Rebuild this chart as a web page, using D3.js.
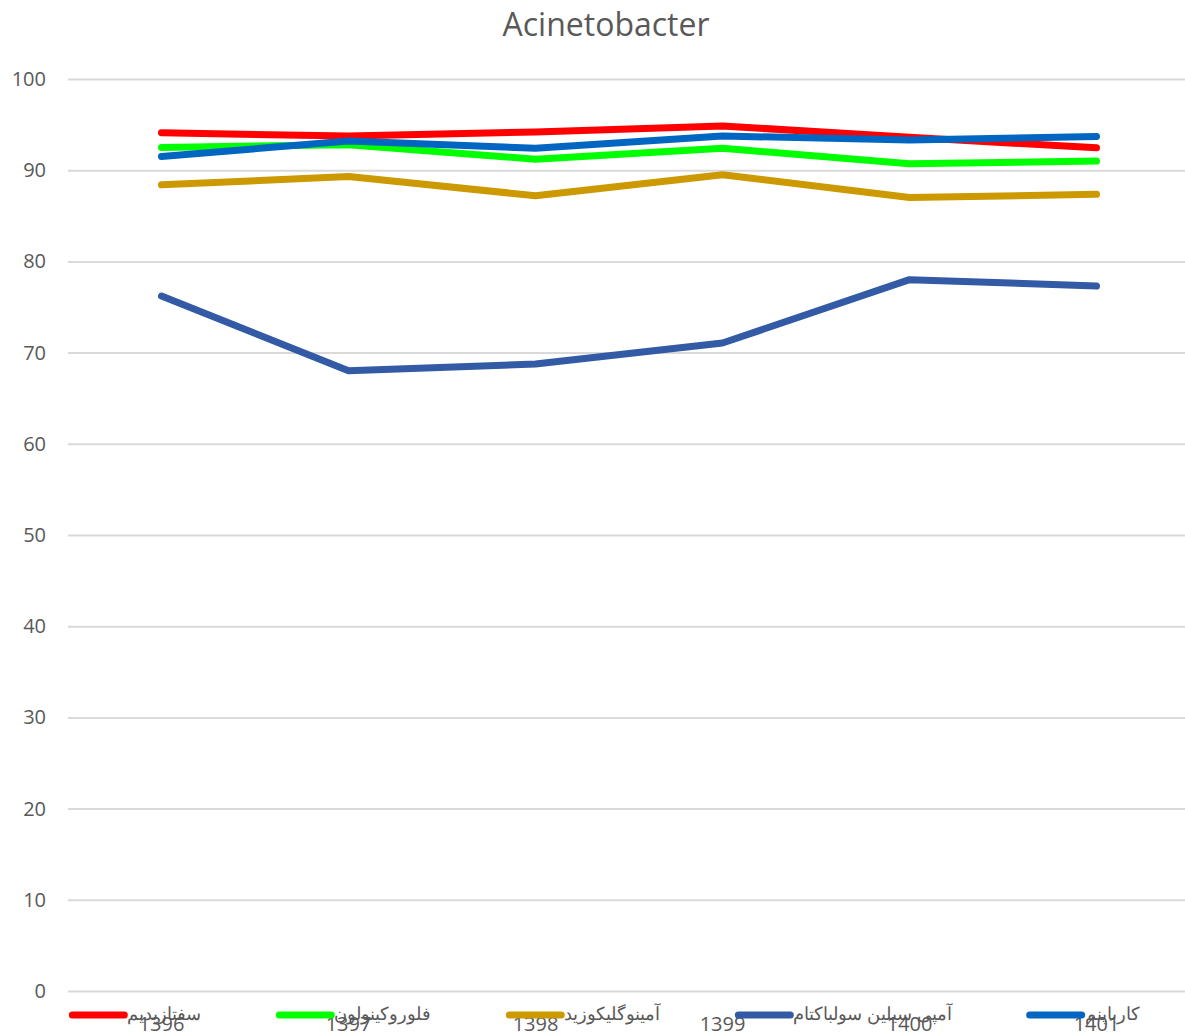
<!DOCTYPE html>
<html>
<head>
<meta charset="utf-8">
<script src="https://cdn.jsdelivr.net/npm/d3@7"></script>
<style>
  body { margin: 0; background: #fff; }
  text { font-family: "Open Sans", "Noto Sans", sans-serif; fill: #595959; }
</style>
</head>
<body>
<svg id="chart" width="1185" height="1032"></svg>
<script>
// years (x categories)
var years = ['1396', '1397', '1398', '1399', '1400', '1401'];

// series, one array each
var ceftazidime = [94.1, 93.75, 94.2, 94.85, 93.6, 92.45];
var fluoroquinolone = [92.5, 92.8, 91.2, 92.4, 90.7, 91.0];
var aminoglycoside = [88.4, 89.3, 87.2, 89.5, 87.0, 87.35];
var ampSulbactam = [76.2, 68.0, 68.75, 71.05, 78.0, 77.3];
var carbapenem = [91.5, 93.2, 92.4, 93.75, 93.3, 93.7];

var seriesNames = ['سفتازیدیم', 'فلوروکینولون', 'آمینوگلیکوزید', 'آمپی سیلین سولباکتام', 'کارباپنم'];
var seriesColors = ['#FF0000', '#00FF00', '#CC9900', '#335AA5', '#0066C2'];
var seriesValues = [ceftazidime, fluoroquinolone, aminoglycoside, ampSulbactam, carbapenem];

var yTicks = [0, 10, 20, 30, 40, 50, 60, 70, 80, 90, 100];

(function () {
  var svg = d3.select('#chart');
  var width = 1185;
  var plotLeft = 68, plotRight = 1190, plotTop = 79, plotBottom = 991;

  var x = d3.scaleBand().domain(years).range([plotLeft, plotRight]);
  var y = d3.scaleLinear().domain([0, 100]).range([plotBottom, plotTop]);

  // title
  svg.append('text')
    .attr('x', 606).attr('y', 36)
    .attr('text-anchor', 'middle')
    .style('font-size', '32px')
    .text('Acinetobacter');

  // gridlines + y labels
  var yAxis = svg.append('g')
    .attr('transform', 'translate(' + plotLeft + ',0)')
    .call(d3.axisLeft(y).tickValues(yTicks).tickSize(-(width - plotLeft)).tickPadding(22));
  yAxis.select('.domain').remove();
  yAxis.selectAll('line').attr('stroke', '#d9d9d9').attr('stroke-width', 2);
  yAxis.selectAll('text').style('font-size', '20px').style('fill', '#595959')
    .attr('font-family', null);

  // x labels (they sit under the legend, as in the source)
  var xAxis = svg.append('g')
    .attr('transform', 'translate(0,' + plotBottom + ')')
    .call(d3.axisBottom(x).tickSize(0).tickPadding(20));
  xAxis.select('.domain').remove();
  xAxis.selectAll('text').style('font-size', '20px').style('fill', '#595959')
    .attr('font-family', null).attr('dy', '1em');

  // lines
  var line = d3.line()
    .x(function (d, i) { return x(years[i]) + x.bandwidth() / 2; })
    .y(function (d) { return y(d); });

  svg.append('g').selectAll('path')
    .data(seriesValues)
    .enter().append('path')
    .attr('d', line)
    .attr('fill', 'none')
    .attr('stroke', function (d, i) { return seriesColors[i]; })
    .attr('stroke-width', 7)
    .attr('stroke-linecap', 'round')
    .attr('stroke-linejoin', 'round');

  // legend, laid out from measured text widths and centred
  var legend = svg.append('g');
  var items = legend.selectAll('g')
    .data(seriesNames)
    .enter().append('g');
  items.append('line')
    .attr('x1', 0).attr('x2', 52).attr('y1', 0).attr('y2', 0)
    .attr('stroke', function (d, i) { return seriesColors[i]; })
    .attr('stroke-width', 7)
    .attr('stroke-linecap', 'round');
  items.append('text')
    .attr('x', 55).attr('y', 0).attr('dy', '0.25em')
    .style('font-size', '18px')
    .text(function (d) { return d; });

  var gap = 78, pos = 0, starts = [];
  items.each(function () {
    starts.push(pos);
    pos += 55 + this.querySelector('text').getComputedTextLength() + gap;
  });
  var total = pos - gap;
  var startX = 606 - total / 2;
  items.attr('transform', function (d, i) { return 'translate(' + (startX + starts[i]) + ',1015)'; });
})();
</script>
</body>
</html>
